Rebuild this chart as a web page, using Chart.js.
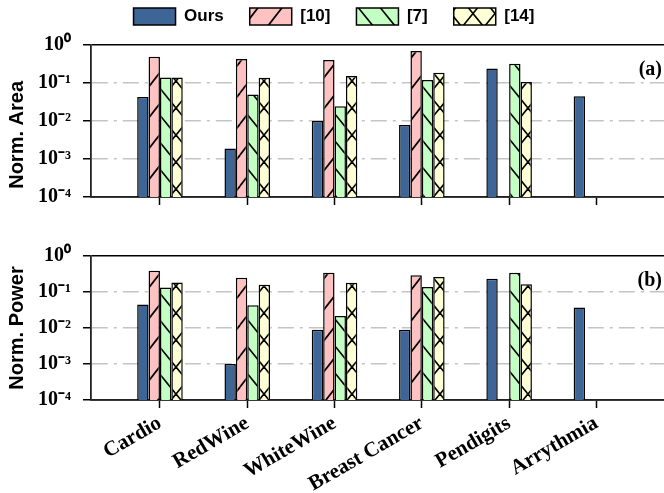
<!DOCTYPE html>
<html>
<head>
<meta charset="utf-8">
<script src="https://cdn.jsdelivr.net/npm/chart.js@4.4.1/dist/chart.umd.min.js"></script>
<style>
html, body { margin: 0; padding: 0; background: #fff; overflow: hidden; }
#wrap { width: 668px; height: 493px; }
canvas { display: block; }
</style>
</head>
<body>
<div id="wrap">
<canvas id="areaChart" width="668" height="232"></canvas>
<canvas id="powerChart" width="668" height="261"></canvas>
</div>
<script>
var categories = ["Cardio", "RedWine", "WhiteWine", "Breast Cancer", "Pendigits", "Arrythmia"];
var seriesNames = ["Ours", "[10]", "[7]", "[14]"];

// normalized area (panel a)
var areaOurs  = [0.043, 0.0019, 0.010, 0.0078, 0.24, 0.045];
var areaRef10 = [0.49, 0.43, 0.40, 0.70, null, null];
var areaRef7  = [0.14, 0.05, 0.0245, 0.12, 0.32, null];
var areaRef14 = [0.14, 0.138, 0.152, 0.185, 0.107, null];

// normalized power (panel b)
var powerOurs  = [0.045, 0.001, 0.0089, 0.0089, 0.234, 0.037];
var powerRef10 = [0.39, 0.25, 0.34, 0.29, null, null];
var powerRef7  = [0.133, 0.043, 0.0215, 0.138, 0.34, null];
var powerRef14 = [0.184, 0.16, 0.18, 0.26, 0.163, null];

var yTickValues = [1e-4, 1e-3, 1e-2, 1e-1, 1];
var yTickLabels = ["10\u207B\u2074", "10\u207B\u00B3", "10\u207B\u00B2", "10\u207B\u00B9", "10\u2070"];

var sansBold = "'Liberation Sans', Arial, sans-serif";
var serifBold = "'Liberation Serif', 'Times New Roman', serif";

function makePattern(bg, kind, w, h)
{
    var c = document.createElement("canvas");
    c.width = w;
    c.height = h;
    var g = c.getContext("2d");
    g.fillStyle = bg;
    g.fillRect(0, 0, w, h);
    g.strokeStyle = "#000";
    g.lineWidth = 1.7;
    function seg(x1, y1, x2, y2)
    {
        for (var dx = -w; dx <= w; dx += w)
        {
            for (var dy = -h; dy <= h; dy += h)
            {
                g.beginPath();
                g.moveTo(x1 + dx, y1 + dy);
                g.lineTo(x2 + dx, y2 + dy);
                g.stroke();
            }
        }
    }
    if (kind == "fwd" || kind == "cross") seg(0, h, w, 0);
    if (kind == "back" || kind == "cross") seg(0, 0, w, h);
    return g.createPattern(c, "repeat");
}

var fills = [
    "#3d6596",
    makePattern("#ffc2c2", "fwd", 24, 31),
    makePattern("#c4ffc4", "back", 22, 27),
    makePattern("#ffffd6", "cross", 22, 27)
];

function barSet(i, values)
{
    return {
        label: seriesNames[i],
        data: values.map(function (v, k) { return {x: k, y: v}; }),
        backgroundColor: fills[i],
        borderColor: "#000",
        borderWidth: 1.5,
        categoryPercentage: 0.522,
        barPercentage: 1
    };
}

var panelLabel = {
    id: "panelLabel",
    afterDraw: function (chart, args, opts) {
        var ctx = chart.ctx, area = chart.chartArea;
        ctx.save();
        ctx.font = "bold 20px " + serifBold;
        ctx.fillStyle = "#000";
        ctx.textAlign = "right";
        ctx.textBaseline = "middle";
        ctx.fillText(opts.text, area.right - 6, area.top + 25);
        ctx.restore();
    }
};

function makeOptions(yTitle, label, xHeight, showLabels, showLegend)
{
    return {
        responsive: false,
        animation: false,
        events: [],
        layout: {
            padding: showLegend ? {top: -18, left: 0, right: 0, bottom: 0} : {top: 16, left: 0, right: 0, bottom: 0}
        },
        scales: {
            x: {
                type: "linear",
                offset: false,
                min: -0.79,
                max: 5.82,
                afterBuildTicks: function (s) {
                    s.ticks = categories.map(function (c, k) { return {value: k}; });
                },
                afterFit: function (s) { s.height = xHeight; },
                grid: {
                    offset: false,
                    drawOnChartArea: false,
                    drawTicks: true,
                    tickLength: 8,
                    tickColor: "#000",
                    tickWidth: 1.5
                },
                border: {color: "#222", width: 1.8},
                ticks: {
                    autoSkip: false,
                    minRotation: showLabels ? 30 : 0,
                    maxRotation: showLabels ? 30 : 0,
                    padding: 3,
                    color: "#000",
                    font: {family: serifBold, weight: "bold", size: 21},
                    callback: function (v) { return showLabels ? (categories[v] || "") : ""; }
                }
            },
            y: {
                type: "logarithmic",
                min: 1e-4,
                max: 1,
                afterBuildTicks: function (s) {
                    s.ticks = yTickValues.map(function (v) { return {value: v}; });
                },
                afterFit: function (s) { s.width = 91; },
                grid: {
                    color: function (c) {
                        if (c.index == yTickValues.length - 1 || c.index == 0) return "#000";
                        return "#c4c4c4";
                    },
                    lineWidth: 1.5,
                    tickLength: 8,
                    tickColor: "#000",
                    tickWidth: 1.5,
                    tickBorderDash: []
                },
                border: {
                    color: "#222",
                    width: 1.8,
                    dash: function (c) {
                        if (c.index == yTickValues.length - 1 || c.index == 0) return [];
                        return [16, 6, 3, 6];
                    }
                },
                ticks: {
                    padding: 12,
                    color: "#000",
                    font: {family: serifBold, weight: "bold", size: 20},
                    callback: function (v, i) { return yTickLabels[i]; }
                },
                title: {
                    display: true,
                    text: yTitle,
                    color: "#000",
                    font: {family: sansBold, weight: "bold", size: 20},
                    padding: {top: 5, bottom: 0}
                }
            }
        },
        plugins: {
            legend: {
                display: showLegend,
                labels: {
                    boxWidth: 42,
                    boxHeight: 17,
                    padding: 26,
                    color: "#000",
                    font: {family: sansBold, weight: "bold", size: 17}
                }
            },
            title: {
                display: showLegend,
                text: "",
                weight: 500,
                padding: 0,
                font: {size: 10, lineHeight: 1}
            },
            tooltip: {enabled: false},
            panelLabel: {text: label}
        }
    };
}

var areaChart = new Chart(document.getElementById("areaChart"), {
    type: "bar",
    data: {
        datasets: [barSet(0, areaOurs), barSet(1, areaRef10), barSet(2, areaRef7), barSet(3, areaRef14)]
    },
    options: makeOptions("Norm. Area     ", "(a)", 35, false, true),
    plugins: [panelLabel]
});

var powerChart = new Chart(document.getElementById("powerChart"), {
    type: "bar",
    data: {
        datasets: [barSet(0, powerOurs), barSet(1, powerRef10), barSet(2, powerRef7), barSet(3, powerRef14)]
    },
    options: makeOptions("Norm. Power", "(b)", 93, true, false),
    plugins: [panelLabel]
});
</script>
</body>
</html>
